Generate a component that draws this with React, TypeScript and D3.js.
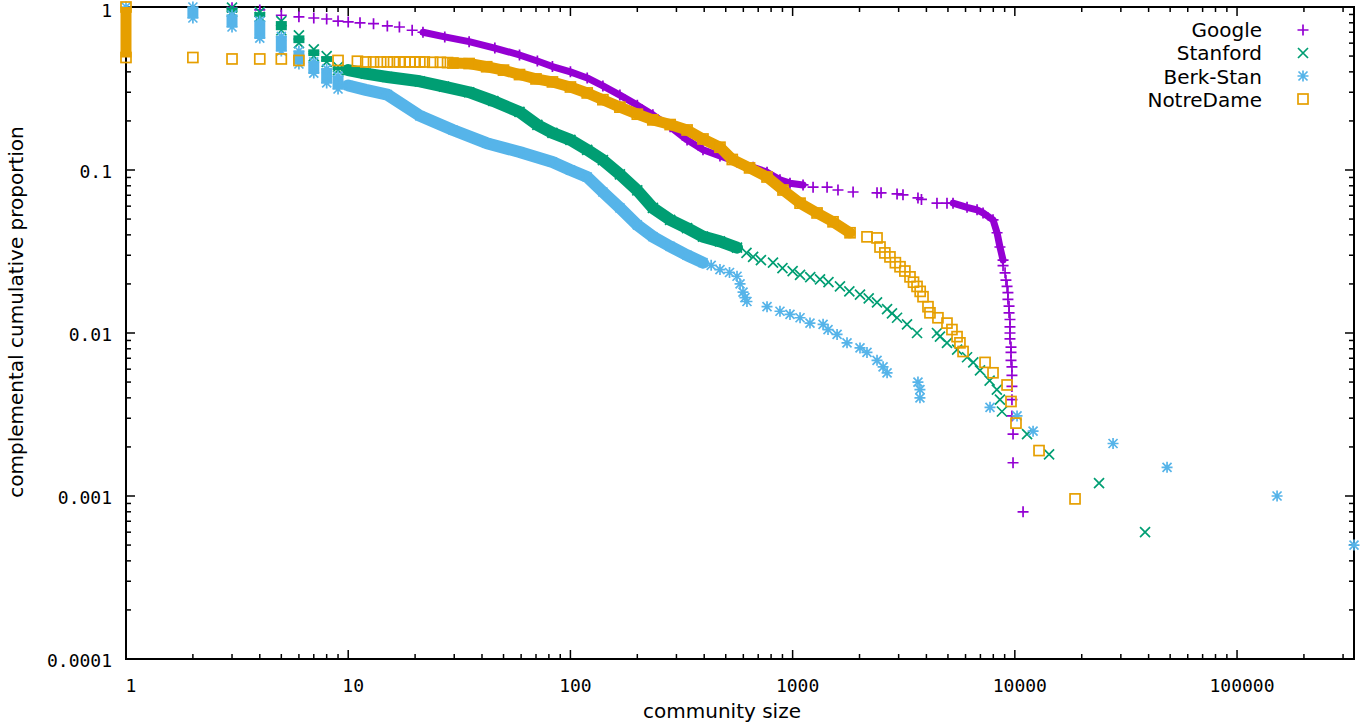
import React from "react";
import * as d3 from "d3";

const W = 1361;
const H = 725;

const xTickValues = [1, 10, 100, 1000, 10000, 100000];
const xTickLabels = ["1", "10", "100", "1000", "10000", "100000"];
const yTickValues = [0.0001, 0.001, 0.01, 0.1, 1];
const yTickLabels = ["0.0001", "0.001", "0.01", "0.1", "1"];

const seriesNames = ["Google", "Stanford", "Berk-Stan", "NotreDame"];
const seriesColors = ["#9400d3", "#009e73", "#56b4e9", "#e69f00"];
const seriesMarkers = ["plus", "cross", "star", "square"];

// columns: [community size, highest proportion, lowest proportion]
const googleColumns: number[][] = [];
const googleSparse = [
  [3, 0.99], [4, 0.96], [5, 0.89], [6, 0.87], [7, 0.856], [8, 0.844], [9, 0.82], [10, 0.81],
  [11.3, 0.8], [13, 0.79], [15, 0.765], [17, 0.754], [19.4, 0.72],
  [1236, 0.0785], [1429, 0.0785], [1600, 0.0754], [1871, 0.0733], [2398, 0.0724], [2500, 0.0724],
  [2951, 0.0713], [3138, 0.0704], [3665, 0.0674], [3800, 0.066], [4463, 0.0626], [4951, 0.0626],
  [8850, 0.0259], [9036, 0.0234], [9120, 0.0211], [9226, 0.0193], [9310, 0.0177], [9310, 0.0161],
  [9418, 0.0146], [9418, 0.0133], [9510, 0.0121], [9510, 0.0109], [9510, 0.01], [9510, 0.0092],
  [9610, 0.0082], [9610, 0.0076], [9610, 0.0068], [9705, 0.0062], [9705, 0.0055], [9705, 0.0047],
  [9705, 0.0039], [9705, 0.0031], [9815, 0.0024], [9815, 0.0016], [10890, 0.0008],
];
const googleDense = [
  [[21.7, 0.7], [27.2, 0.655], [35, 0.613], [45.7, 0.56], [59, 0.508], [71, 0.466], [83, 0.431],
   [100, 0.4], [119, 0.367], [140, 0.328], [167, 0.288], [200, 0.25], [235, 0.218], [281, 0.184],
   [335, 0.153], [395, 0.133], [471, 0.122], [562, 0.112], [664, 0.104], [767, 0.097], [877, 0.087],
   [973, 0.083], [1114, 0.081]],
  [[5270, 0.0626], [6095, 0.059], [6761, 0.057], [7194, 0.0545], [7977, 0.0495], [8318, 0.0412],
   [8570, 0.0337], [8850, 0.028]],
];

const stanfordColumns = [
  [3, 0.99, 0.93], [4, 0.93, 0.87], [5, 0.82, 0.72], [6, 0.67, 0.6], [7, 0.55, 0.5], [8, 0.5, 0.46], [9, 0.43, 0.41],
];
const stanfordDense = [
  [[10, 0.41], [12, 0.39], [15, 0.372], [21, 0.35], [27, 0.325], [35, 0.3], [45, 0.265], [59, 0.227],
   [71, 0.189], [83, 0.169], [100, 0.153], [119, 0.133], [140, 0.115], [167, 0.094], [200, 0.075],
   [235, 0.0585], [281, 0.0495], [335, 0.044], [395, 0.039], [471, 0.0365], [562, 0.0334]],
];
const stanfordSparse = [
  [620, 0.031], [664, 0.0293], [720, 0.028], [816, 0.027], [900, 0.025], [1000, 0.024], [1080, 0.0227],
  [1200, 0.022], [1328, 0.0213], [1450, 0.0205], [1633, 0.0193], [1800, 0.018], [2010, 0.0172],
  [2200, 0.0163], [2398, 0.0154], [2661, 0.014], [2800, 0.0132], [2951, 0.0124], [3272, 0.0113],
  [3630, 0.01], [4463, 0.01], [4603, 0.0095], [4951, 0.0087], [5500, 0.0079], [6095, 0.0071],
  [6500, 0.0066], [6970, 0.0059], [7700, 0.0051], [8300, 0.0045], [8570, 0.0039], [8750, 0.0033],
  [11350, 0.0024], [14260, 0.0018], [23930, 0.0012], [38550, 0.0006],
];

const berkColumns = [
  [2, 1.0, 0.856], [3, 0.893, 0.754], [4, 0.82, 0.645], [5, 0.66, 0.537], [6, 0.537, 0.447],
  [7, 0.46, 0.393], [8, 0.417, 0.342], [9, 0.377, 0.314],
];
const berkDense = [
  [[10, 0.33], [12, 0.31], [15, 0.29], [21, 0.215], [29.6, 0.176], [42, 0.146], [59, 0.129], [83, 0.112],
   [100, 0.1], [119, 0.0906], [140, 0.0733], [167, 0.0585], [200, 0.046], [235, 0.039], [281, 0.034],
   [335, 0.03], [395, 0.027]],
];
const berkSparse = [
  [1, 1.0], [430, 0.026], [471, 0.0245], [520, 0.0235], [562, 0.0223], [580, 0.02], [598, 0.0178],
  [610, 0.0165], [623, 0.0156], [767, 0.0145], [877, 0.0136], [973, 0.013], [1080, 0.0124],
  [1197, 0.0115], [1371, 0.0113], [1443, 0.0105], [1585, 0.0098], [1757, 0.0087], [2010, 0.0081],
  [2161, 0.0076], [2398, 0.0068], [2553, 0.0062], [2661, 0.0057], [3665, 0.005], [3741, 0.0045],
  [3741, 0.004], [7731, 0.0035], [10230, 0.0031], [12080, 0.0025], [27670, 0.0021], [48420, 0.0015],
  [151400, 0.001], [336000, 0.0005],
];

const notreColumns = [[1, 1.0, 0.49]];
const notreDense = [
  [[29.6, 0.453], [35, 0.45], [42, 0.43], [50, 0.41], [59, 0.385], [70, 0.362], [83, 0.347], [100, 0.323],
   [119, 0.297], [140, 0.27], [167, 0.243], [200, 0.22], [235, 0.203], [281, 0.19], [335, 0.176],
   [395, 0.155], [471, 0.138], [535, 0.116], [640, 0.103], [767, 0.0906], [905, 0.0754], [1080, 0.0626],
   [1288, 0.0545], [1520, 0.0481], [1813, 0.0412]],
];
const notreSparse = [
  [2, 0.49], [3, 0.48], [4, 0.48], [5, 0.48], [6, 0.47], [9, 0.47], [11, 0.465], [12, 0.46], [13, 0.46],
  [14, 0.46], [15, 0.46], [16, 0.46], [17, 0.46], [18, 0.46], [19, 0.46], [20, 0.46], [21, 0.46],
  [22, 0.46], [24, 0.458], [26, 0.458], [28, 0.456],
  [2161, 0.0389], [2398, 0.0383], [2473, 0.0337], [2600, 0.031], [2742, 0.0293], [2900, 0.027],
  [3043, 0.0255], [3200, 0.024], [3375, 0.0221], [3500, 0.0205], [3630, 0.0193], [3750, 0.018],
  [3862, 0.0167], [4066, 0.0145], [4150, 0.0133], [4508, 0.0124], [4951, 0.0115], [5212, 0.0105],
  [5495, 0.0095], [5662, 0.0087], [5848, 0.0077], [7345, 0.0066], [7977, 0.0057], [9226, 0.0048],
  [9610, 0.0038], [10120, 0.0028], [12850, 0.0019], [18660, 0.00096],
];

const allColumns = [googleColumns, stanfordColumns, berkColumns, notreColumns];
const allDense = [googleDense, stanfordDense, berkDense, notreDense];
const allSparse = [googleSparse, stanfordSparse, berkSparse, notreSparse];
const bandWidths = [7, 12, 12, 11];

const PL = 126, PR = 1354, PT = 7, PB = 659;
const x = d3.scaleLog().domain([1, 336000]).range([PL, PR]);
const y = d3.scaleLog().domain([0.0001, 1]).range([PB, PT]);

function Marker({ kind, cx, cy, color }: { kind: string; cx: number; cy: number; color: string }) {
  const sw = 1.7;
  if (kind === "plus") {
    return <path d={`M${cx - 5.5},${cy}H${cx + 5.5}M${cx},${cy - 5.5}V${cy + 5.5}`} stroke={color} strokeWidth={sw} fill="none" />;
  }
  if (kind === "cross") {
    return <path d={`M${cx - 5},${cy - 5}L${cx + 5},${cy + 5}M${cx - 5},${cy + 5}L${cx + 5},${cy - 5}`} stroke={color} strokeWidth={sw} fill="none" />;
  }
  if (kind === "star") {
    return <path d={`M${cx - 5.5},${cy}H${cx + 5.5}M${cx},${cy - 5.5}V${cy + 5.5}M${cx - 4.5},${cy - 4.5}L${cx + 4.5},${cy + 4.5}M${cx - 4.5},${cy + 4.5}L${cx + 4.5},${cy - 4.5}`} stroke={color} strokeWidth={sw} fill="none" />;
  }
  return <rect x={cx - 5} y={cy - 5} width={10} height={10} stroke={color} strokeWidth={sw} fill="none" />;
}

export default function App() {
  const line = d3.line<number[]>().x((d) => x(d[0])).y((d) => y(d[1]));
  const xMinor: number[] = [];
  xTickValues.forEach((v) => {
    for (let k = 2; k <= 9; k++) if (v * k <= 336000) xMinor.push(v * k);
  });
  const yMinor: number[] = [];
  yTickValues.slice(0, -1).forEach((v) => {
    for (let k = 2; k <= 9; k++) yMinor.push(v * k);
  });

  return (
    <svg width={W} height={H} style={{ position: "absolute", left: 0, top: 0, background: "#fff" }}>
      <rect x={0} y={0} width={W} height={H} fill="#fff" />
      <g stroke="#000" strokeWidth={1.5}>
        {xTickValues.map((v) => (
          <g key={"xm" + v}>
            <line x1={x(v)} x2={x(v)} y1={PB} y2={PB - 9} />
            <line x1={x(v)} x2={x(v)} y1={PT} y2={PT + 9} />
          </g>
        ))}
        {xMinor.map((v) => (
          <g key={"xn" + v}>
            <line x1={x(v)} x2={x(v)} y1={PB} y2={PB - 5} />
            <line x1={x(v)} x2={x(v)} y1={PT} y2={PT + 5} />
          </g>
        ))}
        {yTickValues.map((v) => (
          <g key={"ym" + v}>
            <line x1={PL} x2={PL + 9} y1={y(v)} y2={y(v)} />
            <line x1={PR} x2={PR - 9} y1={y(v)} y2={y(v)} />
          </g>
        ))}
        {yMinor.map((v) => (
          <g key={"yn" + v}>
            <line x1={PL} x2={PL + 5} y1={y(v)} y2={y(v)} />
            <line x1={PR} x2={PR - 5} y1={y(v)} y2={y(v)} />
          </g>
        ))}
      </g>
      <rect x={PL} y={PT} width={PR - PL} height={PB - PT} fill="none" stroke="#000" strokeWidth={2} />
      <g fontFamily="'DejaVu Sans Mono', monospace" fontSize={18} fill="#000">
        {xTickValues.map((v, i) => (
          <text key={"xl" + v} x={x(v) + 5} y={692} textAnchor="middle">{xTickLabels[i]}</text>
        ))}
        {yTickValues.map((v, i) => (
          <text key={"yl" + v} x={112} y={Math.max(y(v) + 8, 17)} textAnchor="end">{yTickLabels[i]}</text>
        ))}
      </g>
      <g fontFamily="'DejaVu Sans', sans-serif" fontSize={20} fill="#000">
        <text x={722} y={718} textAnchor="middle">community size</text>
        <text transform="translate(23,312) rotate(-90)" textAnchor="middle">complemental cumulative proportion</text>
      </g>
      {seriesNames.map((name, si) => {
        const color = seriesColors[si];
        const kind = seriesMarkers[si];
        return (
          <g key={name}>
            {allColumns[si].map((c, i) => (
              <g key={"c" + i}>
                <line x1={x(c[0])} x2={x(c[0])} y1={y(c[1])} y2={y(c[2])} stroke={color} strokeWidth={11} />
                <Marker kind={kind} cx={x(c[0])} cy={y(c[1])} color={color} />
                <Marker kind={kind} cx={x(c[0])} cy={y(c[2])} color={color} />
              </g>
            ))}
            {allDense[si].map((seg, i) => (
              <g key={"d" + i}>
                <path d={line(seg) || ""} stroke={color} strokeWidth={bandWidths[si]} fill="none" strokeLinecap="round" strokeLinejoin="round" />
                {seg.map((p, j) => (
                  <Marker key={j} kind={kind} cx={x(p[0])} cy={y(p[1])} color={color} />
                ))}
              </g>
            ))}
            {allSparse[si].map((p, j) => (
              <Marker key={"s" + j} kind={kind} cx={x(p[0])} cy={y(p[1])} color={color} />
            ))}
          </g>
        );
      })}
      <g fontFamily="'DejaVu Sans', sans-serif" fontSize={20} fill="#000">
        {seriesNames.map((name, i) => (
          <g key={"lg" + name}>
            <text x={1262} y={37 + i * 23.3} textAnchor="end">{name}</text>
            <Marker kind={seriesMarkers[i]} cx={1303} cy={30 + i * 23} color={seriesColors[i]} />
          </g>
        ))}
      </g>
    </svg>
  );
}
